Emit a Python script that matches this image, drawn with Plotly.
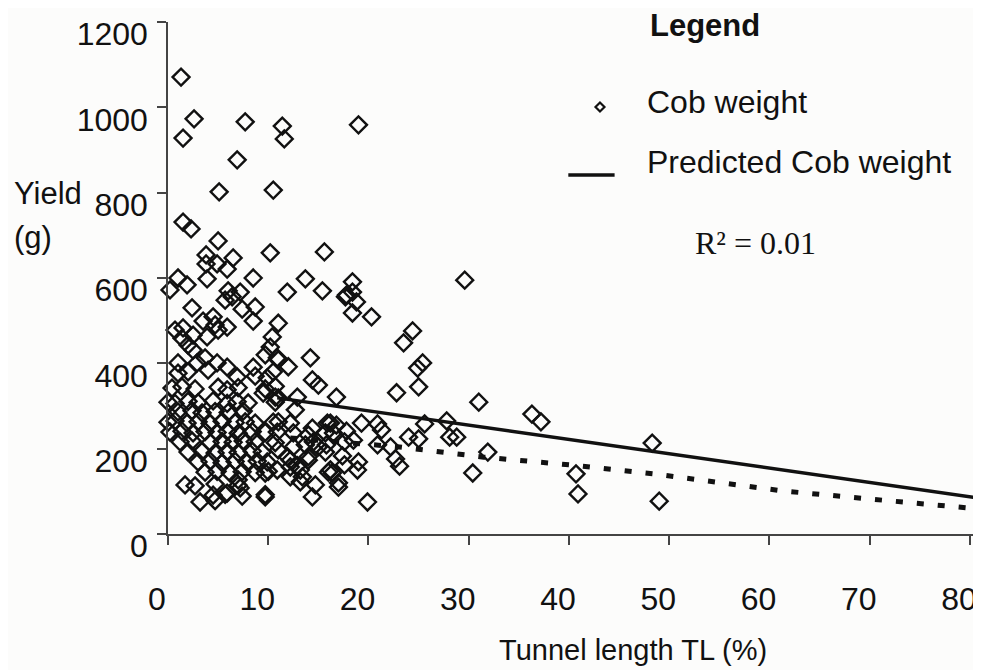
import plotly.graph_objects as go

# ---- data ----
# Tunnel length TL (%) and cob weight (g) pairs
cob_x = [
    1.3, 2.6, 1.5, 7.7, 11.4, 11.6, 19.0, 6.9, 5.1, 10.5, 1.5, 2.3, 5.0, 3.8, 3.8, 4.9, 6.5, 5.9, 10.2, 15.6,
    3.9, 1.0, 1.9, 0.2, 8.5, 13.7, 6.0, 7.2, 11.9, 15.4, 17.8, 6.4, 29.6,
    18.4, 18.4, 17.7, 18.8, 18.4, 20.3, 24.4, 23.5, 25.4, 24.9, 25.0, 22.8, 31.0, 16.8, 36.3, 37.2, 27.8, 25.6,
    48.3, 31.9, 30.4, 40.7, 40.9, 49.0, 19.9, 28.1, 28.8, 25.0, 24.0, 20.9, 21.3, 19.3, 20.9, 22.2, 22.7, 23.1,
    16.8, 17.8, 18.5, 17.6, 17.4, 17.6, 18.9, 19.0, 17.0, 16.4,
    5.7, 2.4, 7.4, 8.7, 8.5, 11.0, 3.5, 4.5, 4.7, 5.9, 5.0, 0.7, 1.5, 1.4, 2.5, 3.9, 2.0, 2.5, 10.4, 10.2,
    9.7, 10.9, 1.0, 1.0, 2.9, 3.7, 4.9, 5.9, 8.5, 10.5, 2.0, 4.0,
    6.9, 8.7, 9.9,
    0.4, 1.4, 2.7, 5.0, 5.9, 7.0, 9.7, 10.7,
    0.0, 0.7, 2.0, 3.0, 4.5, 5.9, 6.9, 8.0, 10.7,
    1.0, 2.4, 3.4, 4.7, 6.0, 7.5,
    0.0, 0.7, 1.9, 3.0, 4.2, 5.4, 6.7, 7.7, 8.7, 10.5,
    0.2, 1.4, 2.5, 3.7, 4.9, 5.9, 7.0, 8.4, 9.7, 10.9,
    1.2, 2.4, 4.2, 5.4, 6.5, 7.5, 8.7, 10.7,
    2.0, 3.4, 4.7, 5.9, 7.0, 8.4, 9.4,
    3.0, 4.2, 5.4, 6.7, 7.9, 8.9, 9.9,
    3.7, 4.9, 6.2, 7.4, 8.7, 10.0,
    1.7, 2.7, 4.7, 7.0,
    4.5, 5.7, 7.4, 9.7,
    3.2, 4.7,
    14.4, 15.0, 11.0, 12.9, 12.7, 11.0, 12.2, 12.5, 14.4, 15.9, 14.0, 15.7, 14.5, 13.7, 12.5, 11.0, 15.7, 14.0,
    11.9, 12.2, 13.2, 16.0, 13.2, 14.7, 14.4, 10.9,
    14.2, 11.0, 12.0,
    9.5, 10.7, 9.7, 12.2, 9.7, 5.9, 7.0, 7.2, 16.2, 16.5, 16.2, 17.0, 13.4, 12.9, 14.0, 12.2, 15.0, 15.8,
]
cob_y = [
    1071, 973, 928, 966, 956, 926, 959, 877, 802, 806, 731, 715, 687, 654, 633, 633, 647, 621, 659, 661,
    598, 600, 584, 572, 600, 598, 570, 567, 567, 570, 560, 556, 595,
    591, 567, 556, 544, 518, 509, 476, 448, 401, 389, 345, 331, 309, 321, 281, 263, 265, 258,
    213, 192, 143, 141, 94, 77, 75, 227, 227, 223, 227, 258, 244, 260, 209, 204, 176, 159,
    255, 241, 220, 216, 183, 162, 150, 169, 110, 143,
    548, 530, 527, 532, 499, 494, 499, 509, 490, 485, 478, 478, 483, 459, 466, 462, 443, 431, 462, 438,
    420, 413, 401, 377, 401, 413, 401, 391, 391, 380, 380, 384,
    368, 370, 366,
    342, 345, 340, 344, 338, 343, 340, 346,
    309, 306, 311, 308, 312, 306, 310, 307, 309,
    286, 289, 284, 287, 285, 288,
    262, 265, 260, 263, 259, 264, 261, 263, 260, 262,
    239, 241, 237, 240, 238, 241, 236, 240, 238, 239,
    216, 218, 214, 217, 215, 218, 216, 214,
    192, 194, 190, 193, 191, 194, 192,
    169, 171, 167, 170, 168, 171, 169,
    145, 147, 143, 146, 144, 147,
    115, 113, 117, 114,
    91, 93, 89, 92,
    75, 78,
    361, 349, 319, 321, 291, 263, 260, 237, 248, 260, 232, 237, 216, 209, 204, 197, 192, 181,
    181, 157, 150, 145, 122, 115, 87, 150,
    413, 408, 392,
    330, 321, 143, 134, 87, 96, 127, 108, 260, 237, 150, 120, 134, 160, 173, 173, 204, 209,
]

# Predicted cob weight (linear fit)
pred_x = [10.9, 81.0]
pred_y = [319, 84]

# Dashed curve
dash_x = [12.2, 23.1, 31.5, 40.1, 48.4, 54.8, 61.3, 70.0, 80.8]
dash_y = [225, 204, 180, 162, 141, 120, 101, 82, 59]

x_ticks = [0, 10, 20, 30, 40, 50, 60, 70, 80]
y_ticks = [0, 200, 400, 600, 800, 1000, 1200]

FONT = "Arial, Liberation Sans, sans-serif"
INK = "#111111"

fig = go.Figure()
fig.add_trace(go.Scatter(
    x=cob_x, y=cob_y, mode="markers", name="Cob weight", cliponaxis=False,
    marker=dict(symbol="diamond-open", size=13, color=INK, line=dict(width=2.4, color=INK)),
    showlegend=False,
))
fig.add_trace(go.Scatter(
    x=dash_x, y=dash_y, mode="lines", name="dashed", showlegend=False,
    line=dict(color=INK, width=5, dash="7px,14px"),
))
fig.add_trace(go.Scatter(
    x=pred_x, y=pred_y, mode="lines", name="Predicted Cob weight", showlegend=False,
    line=dict(color=INK, width=3.5),
))

axis_common = dict(
    showgrid=False, zeroline=False, showline=True, linecolor="#444444", linewidth=1.5,
    ticks="outside", ticklen=9, tickwidth=1.5, tickcolor="#444444",
    tickfont=dict(family=FONT, size=32, color=INK),
)
fig.update_xaxes(range=[0, 81], tickvals=x_ticks, ticklabelstandoff=27, ticklabelshift=-11, **axis_common)
fig.update_yaxes(range=[0, 1200], tickvals=y_ticks, ticklabelstandoff=3, ticklabelshift=12, **axis_common)

ann = []
def txt(t, x, y, size=32, family=FONT, xanchor="left"):
    ann.append(dict(text=t, x=x, y=y, xref="paper", yref="paper", showarrow=False,
                    xanchor=xanchor, yanchor="middle", font=dict(family=family, size=size, color=INK)))

txt("<b>Legend</b>", 0.591, 0.994, size=31)
txt("Cob weight", 0.587, 0.844, size=32)
txt("Predicted Cob weight", 0.587, 0.727, size=32)
txt("R² = 0.01", 0.647, 0.568, size=32, family="Liberation Serif, Times New Roman, serif")
txt("Yield", -0.192, 0.665, size=31)
txt("(g)", -0.192, 0.580, size=31)
txt("Tunnel length TL (%)", 0.573, -0.227, size=29, xanchor="center")

dx, dy = 4.5 / 812, 4.5 / 512
cx, cy = 0.532, 0.834
shapes = [
    dict(type="path", xref="paper", yref="paper",
         path=f"M {cx-dx} {cy} L {cx} {cy+dy} L {cx+dx} {cy} L {cx} {cy-dy} Z",
         line=dict(color=INK, width=2.2)),
    dict(type="line", xref="paper", yref="paper", x0=0.493, x1=0.550, y0=0.701, y1=0.701,
         line=dict(color=INK, width=3.5)),
]

# The page body has an 8px margin, so the figure is sized to fit the 981x670 window
fig.update_layout(
    width=973, height=662, autosize=False,
    margin=dict(l=160, r=1, t=14, b=136),
    paper_bgcolor="#fcfcfb", plot_bgcolor="#fcfcfb",
    annotations=ann, shapes=shapes,
    font=dict(family=FONT, color=INK),
)
fig.write_html("out.html")
